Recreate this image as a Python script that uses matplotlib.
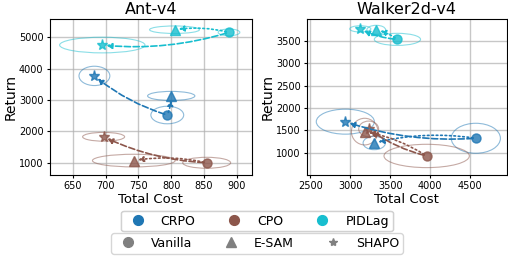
import matplotlib
matplotlib.use("Agg")
import matplotlib.pyplot as plt
from matplotlib.patches import Ellipse
from matplotlib.lines import Line2D

envs = ["Ant-v4", "Walker2d-v4"]
algos = ["CRPO", "CPO", "PIDLag"]
methods = ["Vanilla", "E-SAM", "SHAPO"]
colors = {"CRPO": "#1f77b4", "CPO": "#8c564b", "PIDLag": "#17becf"}
markers = {"Vanilla": "o", "E-SAM": "^", "SHAPO": "*"}

# Ant-v4: order Vanilla, E-SAM, SHAPO
ant_cost = {"CRPO": [794, 800, 683], "CPO": [854, 743, 697], "PIDLag": [888, 805, 695]}
ant_ret = {"CRPO": [2520, 3130, 3770], "CPO": [995, 1065, 1825], "PIDLag": [5160, 5245, 4755]}
ant_cost_w = {"CRPO": [50, 72, 47], "CPO": [73, 126, 64], "PIDLag": [33, 76, 130]}
ant_ret_h = {"CRPO": [560, 290, 617], "CPO": [350, 404, 280], "PIDLag": [213, 240, 500]}

# Walker2d-v4
wal_cost = {"CRPO": [4575, 3300, 2937], "CPO": [3958, 3180, 3230], "PIDLag": [3591, 3325, 3125]}
wal_ret = {"CRPO": [1321, 1215, 1692], "CPO": [926, 1470, 1530], "PIDLag": [3531, 3745, 3765]}
wal_cost_w = {"CRPO": [617, 280, 729], "CPO": [1071, 333, 250], "PIDLag": [580, 235, 265]}
wal_ret_h = {"CRPO": [670, 298, 558], "CPO": [521, 595, 350], "PIDLag": [270, 200, 140]}

ant_xticks = [650, 700, 750, 800, 850, 900]
ant_yticks = [1000, 2000, 3000, 4000, 5000]
wal_xticks = [2500, 3000, 3500, 4000, 4500]
wal_yticks = [1000, 1500, 2000, 2500, 3000, 3500]

data = [
    (ant_cost, ant_ret, ant_cost_w, ant_ret_h, (615, 923), (607, 5584), ant_xticks, ant_yticks),
    (wal_cost, wal_ret, wal_cost_w, wal_ret_h, (2454, 4966), (502, 3984), wal_xticks, wal_yticks),
]

fig = plt.figure(figsize=(5.08, 2.58), dpi=100)
axes = [fig.add_axes([0.098, 0.322, 0.398, 0.604]),
        fig.add_axes([0.604, 0.322, 0.394, 0.604])]

for ax, env, (cost, ret, cw, rh, xl, yl, xt, yt) in zip(axes, envs, data):
    ax.set_xlim(*xl)
    ax.set_ylim(*yl)
    ax.set_xticks(xt)
    ax.set_yticks(yt)
    ax.grid(True, color="#b0b0b0", linewidth=1.0, alpha=0.7)
    ax.set_axisbelow(True)
    for a in algos:
        c = colors[a]
        for i, m in enumerate(methods):
            ax.add_patch(Ellipse((cost[a][i], ret[a][i]), cw[a][i], rh[a][i],
                                 fill=False, edgecolor=c, alpha=0.5, lw=0.8))
        for i, m in enumerate(methods):
            ms = 8 if m == "SHAPO" else 6.5
            ax.plot(cost[a][i], ret[a][i], marker=markers[m], color=c, ms=ms,
                    alpha=0.8, linestyle="none", zorder=3)
        # arrows from Vanilla to E-SAM (dotted) and SHAPO (dashed)
        ax.annotate("", xy=(cost[a][1], ret[a][1]), xytext=(cost[a][0], ret[a][0]),
                    arrowprops=dict(arrowstyle="-|>", linestyle=":", color=c, lw=1.2,
                                    connectionstyle="arc3,rad=0.1", shrinkA=2, shrinkB=3,
                                    mutation_scale=8), zorder=4)
        ax.annotate("", xy=(cost[a][2], ret[a][2]), xytext=(cost[a][0], ret[a][0]),
                    arrowprops=dict(arrowstyle="-|>", linestyle="--", color=c, lw=1.2,
                                    connectionstyle="arc3,rad=-0.1", shrinkA=2, shrinkB=3,
                                    mutation_scale=8), zorder=4)
    ax.set_title(env, fontsize=11.5, pad=3.5)
    ax.set_xlabel("Total Cost", fontsize=9.5, labelpad=1)
    ax.set_ylabel("Return", fontsize=10, labelpad=1)
    ax.tick_params(labelsize=7, length=2.5, pad=2)

h1 = [Line2D([], [], marker="o", color=colors[a], linestyle="none", ms=7) for a in algos]
h2 = [Line2D([], [], marker=markers[m], color="gray", linestyle="none",
             ms=(6 if m == "SHAPO" else 7)) for m in methods]
leg1 = fig.legend(h1, algos, loc="center", bbox_to_anchor=(0.506, 0.143), ncol=3,
                  fontsize=9, columnspacing=2.1, handletextpad=0.85, borderpad=0.3,
                  frameon=True)
fig.add_artist(leg1)
leg2 = fig.legend(h2, methods, loc="center", bbox_to_anchor=(0.506, 0.057), ncol=3,
                  fontsize=9, columnspacing=2.1, handletextpad=0.85, borderpad=0.3,
                  frameon=True)

fig.savefig("out.png", dpi=100)
